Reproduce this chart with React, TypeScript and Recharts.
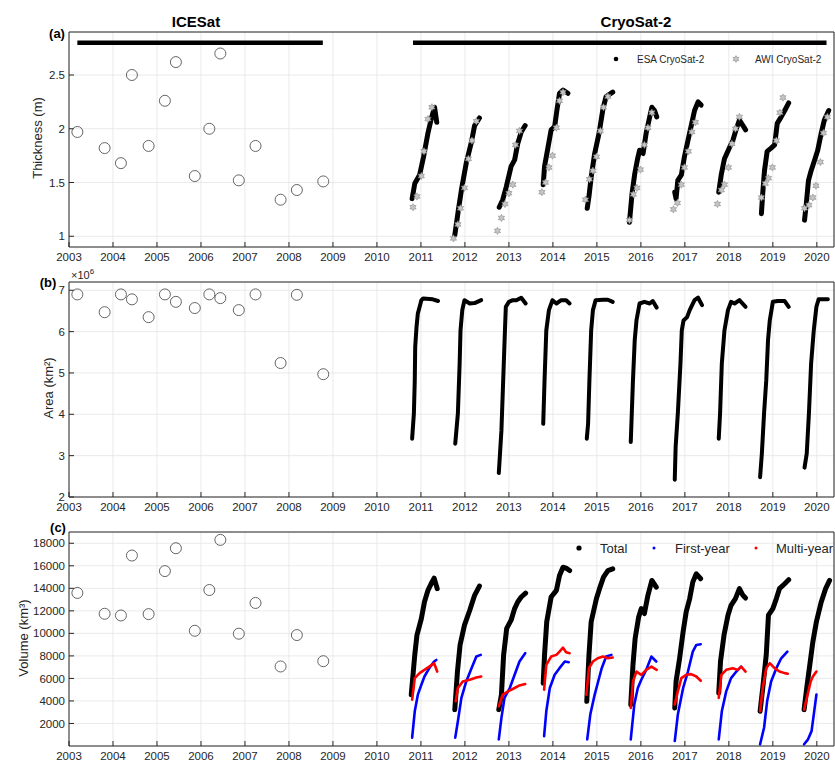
import React from 'react';
import { ComposedChart, Line, Scatter, XAxis, YAxis, CartesianGrid } from 'recharts';

type Pt = [number, number];

// ---- data ----
const yearTicks = [2003, 2004, 2005, 2006, 2007, 2008, 2009, 2010, 2011, 2012, 2013, 2014, 2015, 2016, 2017, 2018, 2019, 2020];
const thicknessTicks = [1, 1.5, 2, 2.5];
const areaTicks = [2, 3, 4, 5, 6, 7];
const volumeTicks = [2000, 4000, 6000, 8000, 10000, 12000, 14000, 16000, 18000];

const icesatTimes = [2003.19, 2003.81, 2004.18, 2004.43, 2004.81, 2005.18, 2005.43, 2005.86, 2006.19, 2006.44, 2006.86, 2007.24, 2007.81, 2008.18, 2008.78];
const icesatThickness = [1.97, 1.82, 1.68, 2.5, 1.84, 2.26, 2.62, 1.56, 2.0, 2.7, 1.52, 1.84, 1.34, 1.43, 1.51];
const icesatArea = [6.9, 6.47, 6.9, 6.78, 6.35, 6.9, 6.72, 6.57, 6.9, 6.81, 6.52, 6.9, 5.24, 6.89, 4.97];
const icesatVolume = [13590, 11740, 11590, 16910, 11710, 15530, 17560, 10230, 13850, 18300, 9970, 12700, 7060, 9850, 7530];

// mission spans drawn as the thick bars at the top of panel (a)
const missionBars: Pt[][] = [
  [[2003.19, 2.8], [2008.77, 2.8]],
  [[2010.82, 2.8], [2020.22, 2.8]],
];

const esaThickness: Pt[][] = [
  [[2010.8, 1.35], [2010.86, 1.49], [2010.97, 1.57], [2011.06, 1.74], [2011.16, 1.96], [2011.24, 2.1], [2011.31, 2.2], [2011.36, 2.06]],
  [[2011.77, 1.01], [2011.85, 1.24], [2011.92, 1.43], [2012.03, 1.68], [2012.15, 1.88], [2012.22, 2.03], [2012.33, 2.1]],
  [[2012.78, 1.27], [2012.86, 1.34], [2012.94, 1.46], [2013.05, 1.65], [2013.13, 1.71], [2013.2, 1.86], [2013.28, 1.97], [2013.37, 2.03]],
  [[2013.78, 1.48], [2013.81, 1.65], [2013.89, 1.83], [2013.96, 1.99], [2014.04, 2.02], [2014.09, 2.17], [2014.15, 2.33], [2014.23, 2.36], [2014.34, 2.33]],
  [[2014.78, 1.26], [2014.82, 1.37], [2014.87, 1.55], [2014.95, 1.77], [2015.05, 1.96], [2015.14, 2.19], [2015.21, 2.3], [2015.36, 2.34]],
  [[2015.74, 1.13], [2015.8, 1.4], [2015.86, 1.58], [2015.92, 1.71], [2015.97, 1.8], [2016.05, 1.77], [2016.12, 1.96], [2016.2, 2.11], [2016.25, 2.2], [2016.31, 2.17], [2016.36, 2.11]],
  [[2016.77, 1.41], [2016.8, 1.35], [2016.84, 1.52], [2016.92, 1.57], [2016.99, 1.74], [2017.07, 1.89], [2017.14, 2.02], [2017.22, 2.17], [2017.3, 2.25], [2017.37, 2.22]],
  [[2017.77, 1.41], [2017.83, 1.58], [2017.9, 1.72], [2018.02, 1.83], [2018.09, 1.89], [2018.17, 2.0], [2018.24, 2.08], [2018.32, 2.03], [2018.38, 1.99]],
  [[2018.74, 1.21], [2018.77, 1.4], [2018.81, 1.61], [2018.87, 1.79], [2018.96, 1.82], [2019.04, 1.85], [2019.1, 2.05], [2019.19, 2.11], [2019.27, 2.17], [2019.36, 2.24]],
  [[2019.72, 1.15], [2019.76, 1.3], [2019.81, 1.52], [2019.87, 1.61], [2019.95, 1.71], [2020.02, 1.8], [2020.1, 1.96], [2020.17, 2.08], [2020.27, 2.17]],
];

const awiThickness: Pt[] = [
  [2010.82, 1.27], [2010.91, 1.37], [2011.01, 1.56], [2011.07, 1.79], [2011.16, 2.09], [2011.25, 2.2],
  [2011.74, 0.98], [2011.84, 1.11], [2011.9, 1.26], [2011.99, 1.45], [2012.08, 1.72], [2012.16, 1.89], [2012.26, 2.07],
  [2012.74, 1.05], [2012.83, 1.17], [2012.91, 1.3], [2013.0, 1.4], [2013.09, 1.48], [2013.15, 1.85], [2013.24, 1.98],
  [2013.75, 1.41], [2013.83, 1.5], [2013.91, 1.64], [2013.99, 1.75], [2014.08, 2.01], [2014.15, 2.26], [2014.23, 2.34],
  [2014.74, 1.34], [2014.83, 1.53], [2014.91, 1.61], [2014.99, 1.74], [2015.08, 1.98], [2015.15, 2.2], [2015.25, 2.3],
  [2015.74, 1.15], [2015.83, 1.39], [2015.91, 1.45], [2015.99, 1.62], [2016.08, 1.85], [2016.16, 2.01], [2016.25, 2.15],
  [2016.74, 1.25], [2016.83, 1.31], [2016.92, 1.48], [2016.99, 1.64], [2017.08, 1.79], [2017.16, 1.97], [2017.24, 2.06],
  [2017.74, 1.3], [2017.83, 1.43], [2017.9, 1.48], [2017.99, 1.64], [2018.07, 1.86], [2018.15, 2.0], [2018.24, 2.11],
  [2018.74, 1.36], [2018.83, 1.49], [2018.9, 1.54], [2018.99, 1.64], [2019.08, 1.89], [2019.16, 2.15], [2019.23, 2.29],
  [2019.72, 1.26], [2019.82, 1.29], [2019.91, 1.36], [2019.98, 1.47], [2020.08, 1.69], [2020.15, 1.96], [2020.24, 2.11],
];

// area in units of 10^6 km^2
const esaArea: Pt[][] = [
  [[2010.8, 3.41], [2010.84, 4.02], [2010.86, 4.82], [2010.87, 5.63], [2010.9, 6.11], [2010.93, 6.44], [2011.01, 6.76], [2011.05, 6.8], [2011.27, 6.78], [2011.39, 6.74]],
  [[2011.78, 3.29], [2011.84, 4.02], [2011.88, 5.23], [2011.9, 6.03], [2011.94, 6.52], [2011.99, 6.76], [2012.11, 6.68], [2012.22, 6.69], [2012.37, 6.76]],
  [[2012.77, 2.58], [2012.83, 3.61], [2012.87, 4.82], [2012.91, 6.03], [2012.93, 6.6], [2013.0, 6.72], [2013.09, 6.76], [2013.17, 6.76], [2013.28, 6.82], [2013.38, 6.68]],
  [[2013.78, 3.77], [2013.81, 4.82], [2013.85, 6.03], [2013.91, 6.52], [2013.99, 6.76], [2014.08, 6.68], [2014.19, 6.76], [2014.3, 6.76], [2014.38, 6.68]],
  [[2014.77, 3.41], [2014.8, 3.77], [2014.83, 4.82], [2014.87, 6.03], [2014.91, 6.52], [2014.97, 6.76], [2015.14, 6.77], [2015.25, 6.77], [2015.36, 6.72]],
  [[2015.77, 3.33], [2015.82, 4.82], [2015.86, 5.79], [2015.9, 6.27], [2015.97, 6.68], [2016.08, 6.72], [2016.2, 6.68], [2016.27, 6.74], [2016.36, 6.58]],
  [[2016.77, 2.42], [2016.79, 3.21], [2016.84, 4.02], [2016.9, 5.23], [2016.93, 6.03], [2016.97, 6.27], [2017.05, 6.35], [2017.11, 6.52], [2017.22, 6.76], [2017.3, 6.82], [2017.39, 6.64]],
  [[2017.77, 3.41], [2017.8, 4.02], [2017.84, 5.23], [2017.9, 6.03], [2017.98, 6.52], [2018.05, 6.72], [2018.13, 6.68], [2018.24, 6.76], [2018.38, 6.6]],
  [[2018.71, 2.48], [2018.75, 3.05], [2018.8, 4.02], [2018.85, 4.82], [2018.89, 5.79], [2018.93, 6.27], [2019.0, 6.72], [2019.11, 6.74], [2019.27, 6.74], [2019.36, 6.6]],
  [[2019.72, 2.71], [2019.77, 3.05], [2019.82, 4.02], [2019.87, 5.23], [2019.93, 6.03], [2019.99, 6.6], [2020.04, 6.78], [2020.25, 6.78]],
];

const volumeTotal: Pt[][] = [
  [[2010.78, 4560], [2010.86, 8090], [2010.91, 9850], [2011.01, 11320], [2011.08, 12790], [2011.16, 13820], [2011.25, 14550], [2011.3, 14900], [2011.37, 13970]],
  [[2011.77, 3230], [2011.83, 6610], [2011.89, 8970], [2011.99, 10730], [2012.11, 12050], [2012.22, 13380], [2012.33, 14200]],
  [[2012.77, 3230], [2012.83, 4560], [2012.88, 8090], [2012.95, 10440], [2013.05, 11170], [2013.13, 12200], [2013.2, 12790], [2013.28, 13230], [2013.38, 13580]],
  [[2013.78, 5590], [2013.81, 8090], [2013.86, 11030], [2013.96, 13230], [2014.08, 13820], [2014.15, 15140], [2014.23, 15870], [2014.3, 15790], [2014.38, 15580]],
  [[2014.77, 3970], [2014.82, 8090], [2014.87, 11030], [2014.99, 13090], [2015.06, 13970], [2015.15, 14990], [2015.25, 15580], [2015.36, 15730]],
  [[2015.77, 3680], [2015.82, 7200], [2015.87, 9560], [2015.95, 11460], [2016.01, 12200], [2016.08, 11760], [2016.16, 13380], [2016.25, 14700], [2016.35, 14110]],
  [[2016.77, 3380], [2016.8, 5730], [2016.88, 7790], [2016.96, 10140], [2017.03, 11900], [2017.11, 13090], [2017.18, 14550], [2017.26, 15290], [2017.36, 14850]],
  [[2017.77, 4710], [2017.81, 7500], [2017.89, 9850], [2017.98, 11610], [2018.05, 12490], [2018.15, 13090], [2018.24, 13970], [2018.32, 13380], [2018.38, 13140]],
  [[2018.71, 3080], [2018.77, 5150], [2018.85, 8090], [2018.9, 11610], [2019.0, 12200], [2019.08, 13090], [2019.15, 13970], [2019.27, 14410], [2019.36, 14760]],
  [[2019.71, 3230], [2019.77, 5150], [2019.84, 7200], [2019.91, 9260], [2019.99, 11030], [2020.1, 12790], [2020.2, 13970], [2020.29, 14700]],
];

const volumeFirstYear: Pt[][] = [
  [[2010.8, 740], [2010.86, 3080], [2010.93, 4560], [2011.01, 5440], [2011.08, 6170], [2011.19, 6910], [2011.3, 7500], [2011.35, 7640]],
  [[2011.78, 740], [2011.84, 2200], [2011.92, 4270], [2012.03, 5730], [2012.15, 6910], [2012.26, 7940], [2012.36, 8090]],
  [[2012.77, 590], [2012.83, 2500], [2012.9, 4270], [2013.02, 5150], [2013.13, 6320], [2013.24, 7500], [2013.37, 8240]],
  [[2013.8, 880], [2013.85, 3080], [2013.93, 5150], [2014.04, 6320], [2014.15, 6910], [2014.27, 7500], [2014.36, 7440]],
  [[2014.78, 590], [2014.85, 2790], [2014.95, 4560], [2015.02, 5590], [2015.11, 6910], [2015.21, 7940], [2015.33, 8090]],
  [[2015.77, 590], [2015.85, 3680], [2015.93, 5150], [2016.01, 5880], [2016.12, 6760], [2016.24, 7940], [2016.35, 7500]],
  [[2016.77, 440], [2016.84, 2790], [2016.96, 5150], [2017.07, 6610], [2017.18, 8380], [2017.26, 8970], [2017.36, 9030]],
  [[2017.77, 590], [2017.84, 3080], [2017.94, 4850], [2018.05, 6030], [2018.17, 6610], [2018.28, 7050]],
  [[2018.71, 150], [2018.8, 1620], [2018.87, 3970], [2018.96, 5730], [2019.08, 6910], [2019.19, 7790], [2019.33, 8380]],
  [[2019.71, 150], [2019.8, 590], [2019.88, 1320], [2019.93, 2790], [2019.99, 4560]],
];

const volumeMultiYear: Pt[][] = [
  [[2010.8, 4120], [2010.86, 6030], [2010.97, 6470], [2011.08, 6760], [2011.19, 7050], [2011.3, 7350], [2011.37, 6610]],
  [[2011.79, 3970], [2011.84, 5150], [2011.95, 5730], [2012.11, 5880], [2012.26, 6080], [2012.37, 6170]],
  [[2012.77, 3530], [2012.86, 4560], [2012.98, 4850], [2013.13, 5150], [2013.24, 5380], [2013.37, 5500]],
  [[2013.8, 5000], [2013.85, 7200], [2013.96, 7940], [2014.08, 8090], [2014.15, 8380], [2014.23, 8730], [2014.3, 8320], [2014.38, 8240]],
  [[2014.76, 4560], [2014.82, 6910], [2014.91, 7500], [2015.02, 7790], [2015.14, 7940], [2015.25, 7790], [2015.36, 7850]],
  [[2015.77, 3380], [2015.82, 5730], [2015.9, 6610], [2016.01, 6320], [2016.12, 6760], [2016.24, 7050], [2016.36, 6760]],
  [[2016.77, 3680], [2016.84, 4850], [2016.92, 6030], [2017.03, 6320], [2017.14, 6380], [2017.26, 6170], [2017.36, 5790]],
  [[2017.77, 4270], [2017.83, 6320], [2017.94, 6760], [2018.09, 6910], [2018.2, 6760], [2018.28, 7050], [2018.38, 6610]],
  [[2018.71, 3080], [2018.77, 5150], [2018.85, 6910], [2018.93, 7350], [2019.04, 6910], [2019.15, 6610], [2019.27, 6470], [2019.34, 6410]],
  [[2019.71, 3230], [2019.79, 4560], [2019.86, 5730], [2019.91, 6170], [2019.99, 6610]],
];

// ---- styling ----
const W = 835;
const X_DOMAIN: [number, number] = [2003, 2020.39];
const INK = '#262626';
const GRID = '#e4e4e4';
const FONT = '"Liberation Sans", Arial, Helvetica, sans-serif';

const toXY = (pts: Pt[]) => pts.map(([x, y]) => ({ x, y }));
const icesatXY = (vals: number[]) => vals.map((y, i) => ({ x: icesatTimes[i], y }));

const starPoints = (cx: number, cy: number, r: number) => {
  const pts: string[] = [];
  for (let k = 0; k < 12; k++) {
    const a = (Math.PI / 6) * k - Math.PI / 2;
    const rr = k % 2 === 0 ? r : r * 0.55;
    pts.push(`${cx + rr * Math.cos(a)},${cy + rr * Math.sin(a)}`);
  }
  return pts.join(' ');
};

const Star = (p: any) => (
  <polygon points={starPoints(p.cx, p.cy, 3.6)} fill="#c4c4c4" stroke="#8a8a8a" strokeWidth={0.6} />
);
const OpenCircle = (p: any) => <circle cx={p.cx} cy={p.cy} r={5.5} fill="none" stroke="#555" strokeWidth={0.9} />;

const axes = (yDomain: [number, number], yTicks: number[]) => [
  <CartesianGrid key="grid" stroke={GRID} strokeWidth={0.8} />,
  <XAxis key="xb" type="number" dataKey="x" domain={X_DOMAIN} ticks={yearTicks} interval={0} allowDataOverflow
    height={20} tickSize={-5} tickMargin={11} stroke={INK} tick={{ fill: INK, fontSize: 11.5 }} />,
  <XAxis key="xt" xAxisId="top" orientation="top" type="number" domain={X_DOMAIN} ticks={yearTicks} interval={0}
    allowDataOverflow height={1} tickSize={-5} tick={false} stroke={INK} />,
  <YAxis key="yl" type="number" dataKey="y" domain={yDomain} ticks={yTicks} interval={0} allowDataOverflow
    width={69} tickSize={-5} tickMargin={9} stroke={INK} tick={{ fill: INK, fontSize: 11.5 }} />,
  <YAxis key="yr" yAxisId="right" orientation="right" type="number" domain={yDomain} ticks={yTicks} interval={0}
    allowDataOverflow width={1} tickSize={-5} tick={false} stroke={INK} />,
];

const seasonLines = (seasons: Pt[][], name: string, color: string, width: number) =>
  seasons.map((s, i) => (
    <Line key={`${name}${i}`} data={toXY(s)} dataKey="y" stroke={color} strokeWidth={width} dot={false}
      strokeLinecap="round" strokeLinejoin="round" isAnimationActive={false} />
  ));

const margin = { top: 31, right: 0, bottom: 0, left: 0 };

export default function App() {
  return (
    <div style={{ position: 'absolute', left: 0, top: 0, width: W, height: 765, background: '#fff', fontFamily: FONT }}>
      {/* (a) thickness */}
      <div style={{ position: 'absolute', left: 0, top: 0 }}>
        <ComposedChart width={W} height={267} margin={margin}>
          {axes([0.9, 2.9], thicknessTicks)}
          {missionBars.map((b, i) => (
            <Line key={`bar${i}`} data={toXY(b)} dataKey="y" stroke="#000" strokeWidth={4.5} dot={false} isAnimationActive={false} />
          ))}
          <Scatter data={icesatXY(icesatThickness)} dataKey="y" shape={OpenCircle} isAnimationActive={false} />
          {seasonLines(esaThickness, 'esa', '#000', 5)}
          <Scatter data={toXY(awiThickness)} dataKey="y" shape={Star} isAnimationActive={false} />
        </ComposedChart>
      </div>
      {/* (b) area */}
      <div style={{ position: 'absolute', left: 0, top: 250 }}>
        <ComposedChart width={W} height={267} margin={margin}>
          {axes([2, 7.2], areaTicks)}
          <Scatter data={icesatXY(icesatArea)} dataKey="y" shape={OpenCircle} isAnimationActive={false} />
          {seasonLines(esaArea, 'area', '#000', 4)}
        </ComposedChart>
      </div>
      {/* (c) volume */}
      <div style={{ position: 'absolute', left: 0, top: 500 }}>
        <ComposedChart width={W} height={266} margin={margin}>
          {axes([0, 19000], volumeTicks)}
          <Scatter data={icesatXY(icesatVolume)} dataKey="y" shape={OpenCircle} isAnimationActive={false} />
          {seasonLines(volumeTotal, 'tot', '#000', 5)}
          {seasonLines(volumeFirstYear, 'fy', '#0000ff', 2.6)}
          {seasonLines(volumeMultiYear, 'my', '#ff0000', 2.6)}
        </ComposedChart>
      </div>

      {/* titles, labels and legends */}
      <svg width={W} height={765} style={{ position: 'absolute', left: 0, top: 0, pointerEvents: 'none' }}
        fontFamily={FONT}>
        <text x={196} y={27} textAnchor="middle" fontWeight="bold" fontSize={15} fill="#000">ICESat</text>
        <text x={636} y={27} textAnchor="middle" fontWeight="bold" fontSize={15} fill="#000">CryoSat-2</text>

        <text x={57} y={37.5} textAnchor="middle" fontWeight="bold" fontSize={13} fill="#000">(a)</text>
        <text x={48} y={286.5} textAnchor="middle" fontWeight="bold" fontSize={13} fill="#000">(b)</text>
        <text x={58} y={532} textAnchor="middle" fontWeight="bold" fontSize={13} fill="#000">(c)</text>

        <text transform="translate(37,138) rotate(-90)" textAnchor="middle" dy="0.35em" fontSize={13} fill={INK}>Thickness (m)</text>
        <text transform="translate(48,388) rotate(-90)" textAnchor="middle" dy="0.35em" fontSize={13} fill={INK}>Area (km²)</text>
        <text transform="translate(23,638) rotate(-90)" textAnchor="middle" dy="0.35em" fontSize={13} fill={INK}>Volume (km³)</text>

        <text x={71} y={279} fontSize={11} fill={INK}>×10<tspan dy={-5} fontSize={8}>6</tspan></text>

        <circle cx={616} cy={59} r={2.3} fill="#000" />
        <text x={637} y={62.5} fontSize={10} fill={INK}>ESA CryoSat-2</text>
        <polygon points={starPoints(736, 59, 3.4)} fill="#c4c4c4" stroke="#8a8a8a" strokeWidth={0.6} />
        <text x={755} y={62.5} fontSize={10} fill={INK}>AWI CryoSat-2</text>

        <circle cx={579} cy={548} r={2.6} fill="#000" />
        <text x={600} y={552.5} fontSize={13} fill={INK}>Total</text>
        <circle cx={654} cy={548} r={1.5} fill="#0000ff" />
        <text x={675} y={552.5} fontSize={13} fill={INK}>First-year</text>
        <circle cx={756} cy={548} r={1.5} fill="#ff0000" />
        <text x={776} y={552.5} fontSize={13} fill={INK}>Multi-year</text>
      </svg>
    </div>
  );
}
